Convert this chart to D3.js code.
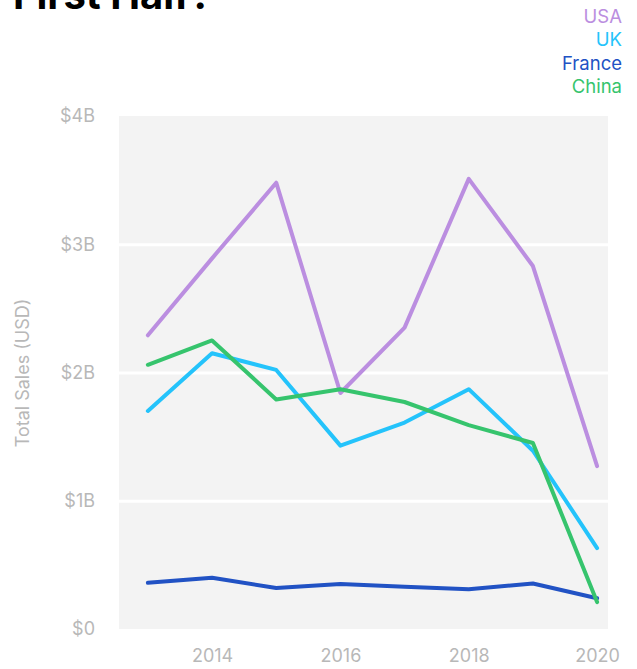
<!DOCTYPE html>
<meta charset="utf-8">
<script src="https://d3js.org/d3.v7.min.js"></script>
<style>
  body { margin: 0; background: #fff; }
  svg text { font-family: Inter, "Liberation Sans", Arial, sans-serif; }
  .axis text { fill: #b8b8b8; font-size: 18px; }
  .axis path { display: none; }
  .grid line { stroke: #fff; stroke-width: 3px; }
</style>
<div id="my_dataviz"></div>
<script>

// data (billions of USD)
var years = [2013, 2014, 2015, 2016, 2017, 2018, 2019, 2020];
var usa    = [2.29, 2.89, 3.48, 1.84, 2.35, 3.51, 2.83, 1.27];
var uk     = [1.70, 2.15, 2.02, 1.43, 1.61, 1.87, 1.39, 0.63];
var france = [0.36, 0.40, 0.32, 0.35, 0.33, 0.31, 0.355, 0.24];
var china  = [2.06, 2.25, 1.79, 1.87, 1.77, 1.59, 1.45, 0.21];

var seriesNames  = ["USA", "UK", "France", "China"];
var seriesColors = ["#bb8ee0", "#24c3fb", "#2152c4", "#36c46d"];
var yTicks = [0, 1, 2, 3, 4];
var xTicks = [2014, 2016, 2018, 2020];

var allSeries = [usa, uk, france, china];

// dimensions
var W = 637, H = 669;
var margin = {top: 116, right: 29, bottom: 40, left: 119},
    width = W - margin.left - margin.right,
    height = H - margin.top - margin.bottom;

var svg0 = d3.select("#my_dataviz")
  .append("svg")
    .attr("width", W)
    .attr("height", H);

// title, mostly scrolled off the top
svg0.append("text")
  .attr("x", 13)
  .attr("y", 9)
  .attr("font-size", "40px")
  .attr("font-weight", "bold")
  .attr("fill", "#000")
  .text("First Half?");

// legend
svg0.selectAll(".legend")
  .data(seriesNames)
  .enter()
  .append("text")
    .attr("class", "legend")
    .attr("x", 622)
    .attr("y", function(d, i) { return 23 + i * 23.3; })
    .attr("text-anchor", "end")
    .attr("font-size", "18.5px")
    .attr("fill", function(d, i) { return seriesColors[i]; })
    .text(function(d) { return d; });

var svg = svg0.append("g")
  .attr("transform", "translate(" + margin.left + "," + margin.top + ")");

// scales
var x = d3.scaleLinear()
  .domain([2012.55, 2020.17])
  .range([0, width]);
var y = d3.scaleLinear()
  .domain([0, 4])
  .range([height, 0]);

// background
svg.append("rect")
  .attr("width", width)
  .attr("height", height)
  .attr("fill", "#f3f3f3");

// gridlines
svg.append("g")
  .attr("class", "grid")
  .call(d3.axisLeft(y).tickValues([1, 2, 3]).tickSize(-width).tickFormat(""))
  .call(function(g) { g.select(".domain").remove(); });

// y axis
svg.append("g")
  .attr("class", "axis")
  .call(d3.axisLeft(y)
    .tickValues(yTicks)
    .tickSize(0)
    .tickPadding(24)
    .tickFormat(function(d) { return d === 0 ? "$0" : "$" + d + "B"; }))
  .selectAll("text").attr("font-family", null);

// x axis
svg.append("g")
  .attr("class", "axis")
  .attr("transform", "translate(0," + height + ")")
  .call(d3.axisBottom(x)
    .tickValues(xTicks)
    .tickSize(0)
    .tickPadding(20)
    .tickFormat(d3.format("d")))
  .selectAll("text").attr("font-family", null);

// y axis label
svg0.append("text")
  .attr("transform", "rotate(-90)")
  .attr("x", -373)
  .attr("y", 29)
  .attr("text-anchor", "middle")
  .attr("font-size", "18px")
  .attr("fill", "#b8b8b8")
  .text("Total Sales (USD)");

// lines
var line = d3.line()
  .x(function(d, i) { return x(years[i]); })
  .y(function(d) { return y(d); });

svg.selectAll(".myLine")
  .data(allSeries)
  .enter()
  .append("path")
    .attr("class", "myLine")
    .attr("d", line)
    .attr("fill", "none")
    .attr("stroke", function(d, i) { return seriesColors[i]; })
    .attr("stroke-width", 4)
    .attr("stroke-linecap", "round")
    .attr("stroke-linejoin", "round");

</script>
